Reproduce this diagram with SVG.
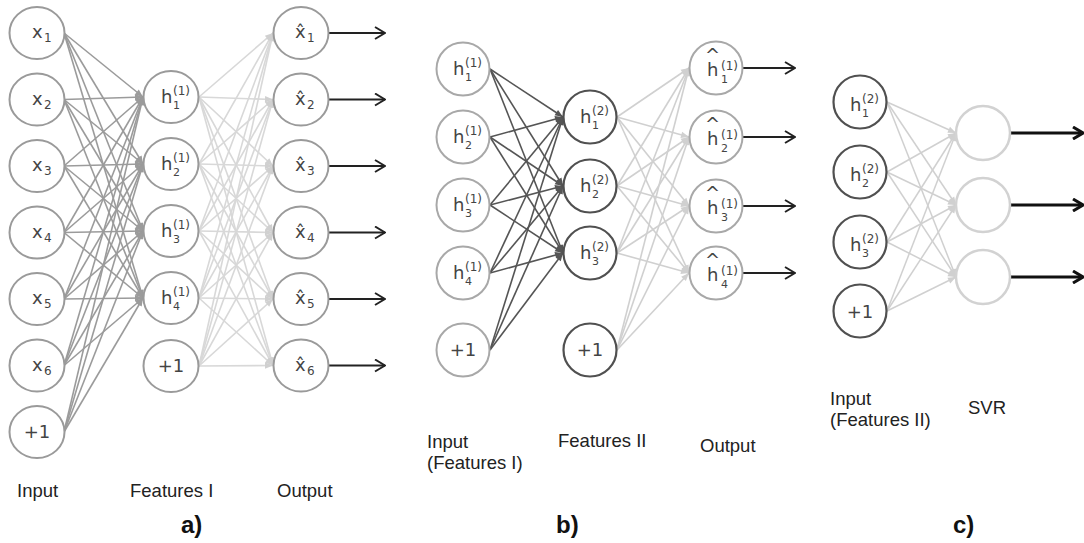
<svg xmlns="http://www.w3.org/2000/svg" width="1084" height="543" viewBox="0 0 1084 543">
<defs>
<style>
.a1 line{stroke:#9b9b9b;stroke-width:1.6;marker-end:url(#mA)}
.a2 line{stroke:#d8d8d8;stroke-width:1.6;marker-end:url(#mB)}
.b1 line{stroke:#555;stroke-width:1.6;marker-end:url(#mC)}
.b2 line{stroke:#d0d0d0;stroke-width:1.6;marker-end:url(#mB)}
.c1 line{stroke:#d0d0d0;stroke-width:1.5;marker-end:url(#mB)}
.out line{stroke:#222;stroke-width:1.8;marker-end:url(#mO)}
.outc line{stroke:#111;stroke-width:3;marker-end:url(#mO2)}
.ng{fill:#fff;stroke:#9a9a9a;stroke-width:2}
.nl{fill:#fff;stroke:#a8a8a8;stroke-width:2}
.nd{fill:#fff;stroke:#505050;stroke-width:2.2}
.nv{fill:#fff;stroke:#d2d2d2;stroke-width:2.5}
.n{font-family:"DejaVu Sans",sans-serif;font-size:18px;fill:#444}
.s{font-size:12px}
.ss{font-size:11px}
.p{font-family:"DejaVu Sans",sans-serif;font-size:18px;fill:#444;text-anchor:middle}
.lb{font-family:"Liberation Sans",Arial,sans-serif;font-size:18.5px;fill:#222}
.pl{font-family:"Liberation Sans",Arial,sans-serif;font-size:24px;font-weight:bold;fill:#111}
</style>
<marker id="mA" viewBox="0 0 10 10" refX="10" refY="5" markerWidth="9" markerHeight="8" markerUnits="userSpaceOnUse" orient="auto"><path d="M0,1 L10,5 L0,9 z" fill="#9b9b9b"/></marker>
<marker id="mB" viewBox="0 0 10 10" refX="10" refY="5" markerWidth="9" markerHeight="8" markerUnits="userSpaceOnUse" orient="auto"><path d="M0,1 L10,5 L0,9 z" fill="#d0d0d0"/></marker>
<marker id="mC" viewBox="0 0 10 10" refX="10" refY="5" markerWidth="9" markerHeight="8" markerUnits="userSpaceOnUse" orient="auto"><path d="M0,1 L10,5 L0,9 z" fill="#555"/></marker>
<marker id="mO" viewBox="0 0 12 14" refX="11" refY="7" markerWidth="12" markerHeight="14" markerUnits="userSpaceOnUse" orient="auto"><path d="M1,1 L11,7 L1,13" fill="none" stroke="#222" stroke-width="2"/></marker>
<marker id="mO2" viewBox="0 0 12 14" refX="11" refY="7" markerWidth="12" markerHeight="14" markerUnits="userSpaceOnUse" orient="auto"><path d="M1,1 L11,7 L1,13" fill="none" stroke="#111" stroke-width="3"/></marker>
</defs>
<rect width="1084" height="543" fill="#fff"/>

<g id="connectors">
<g class="a1">
<line x1="64" y1="33" x2="143" y2="97"/><line x1="64" y1="33" x2="143" y2="164"/><line x1="64" y1="33" x2="143" y2="231"/><line x1="64" y1="33" x2="143" y2="298"/>
<line x1="64" y1="99.5" x2="143" y2="97"/><line x1="64" y1="99.5" x2="143" y2="164"/><line x1="64" y1="99.5" x2="143" y2="231"/><line x1="64" y1="99.5" x2="143" y2="298"/>
<line x1="64" y1="166" x2="143" y2="97"/><line x1="64" y1="166" x2="143" y2="164"/><line x1="64" y1="166" x2="143" y2="231"/><line x1="64" y1="166" x2="143" y2="298"/>
<line x1="64" y1="232.5" x2="143" y2="97"/><line x1="64" y1="232.5" x2="143" y2="164"/><line x1="64" y1="232.5" x2="143" y2="231"/><line x1="64" y1="232.5" x2="143" y2="298"/>
<line x1="64" y1="299" x2="143" y2="97"/><line x1="64" y1="299" x2="143" y2="164"/><line x1="64" y1="299" x2="143" y2="231"/><line x1="64" y1="299" x2="143" y2="298"/>
<line x1="64" y1="365.5" x2="143" y2="97"/><line x1="64" y1="365.5" x2="143" y2="164"/><line x1="64" y1="365.5" x2="143" y2="231"/><line x1="64" y1="365.5" x2="143" y2="298"/>
<line x1="64" y1="432" x2="143" y2="97"/><line x1="64" y1="432" x2="143" y2="164"/><line x1="64" y1="432" x2="143" y2="231"/><line x1="64" y1="432" x2="143" y2="298"/>
</g>
<g class="a2">
<line x1="199" y1="97" x2="273" y2="33"/><line x1="199" y1="97" x2="273" y2="99.5"/><line x1="199" y1="97" x2="273" y2="166"/><line x1="199" y1="97" x2="273" y2="232.5"/><line x1="199" y1="97" x2="273" y2="299"/><line x1="199" y1="97" x2="273" y2="365.5"/>
<line x1="199" y1="164" x2="273" y2="33"/><line x1="199" y1="164" x2="273" y2="99.5"/><line x1="199" y1="164" x2="273" y2="166"/><line x1="199" y1="164" x2="273" y2="232.5"/><line x1="199" y1="164" x2="273" y2="299"/><line x1="199" y1="164" x2="273" y2="365.5"/>
<line x1="199" y1="231" x2="273" y2="33"/><line x1="199" y1="231" x2="273" y2="99.5"/><line x1="199" y1="231" x2="273" y2="166"/><line x1="199" y1="231" x2="273" y2="232.5"/><line x1="199" y1="231" x2="273" y2="299"/><line x1="199" y1="231" x2="273" y2="365.5"/>
<line x1="199" y1="298" x2="273" y2="33"/><line x1="199" y1="298" x2="273" y2="99.5"/><line x1="199" y1="298" x2="273" y2="166"/><line x1="199" y1="298" x2="273" y2="232.5"/><line x1="199" y1="298" x2="273" y2="299"/><line x1="199" y1="298" x2="273" y2="365.5"/>
<line x1="199" y1="366" x2="273" y2="33"/><line x1="199" y1="366" x2="273" y2="99.5"/><line x1="199" y1="366" x2="273" y2="166"/><line x1="199" y1="366" x2="273" y2="232.5"/><line x1="199" y1="366" x2="273" y2="299"/><line x1="199" y1="366" x2="273" y2="365.5"/>
</g>
<g class="out">
<line x1="329" y1="33" x2="385" y2="33"/><line x1="329" y1="99.5" x2="385" y2="99.5"/><line x1="329" y1="166" x2="385" y2="166"/><line x1="329" y1="232.5" x2="385" y2="232.5"/><line x1="329" y1="299" x2="385" y2="299"/><line x1="329" y1="365.5" x2="385" y2="365.5"/>
</g>
<g class="b1">
<line x1="490" y1="69" x2="563" y2="117"/><line x1="490" y1="69" x2="563" y2="186"/><line x1="490" y1="69" x2="563" y2="253"/>
<line x1="490" y1="137" x2="563" y2="117"/><line x1="490" y1="137" x2="563" y2="186"/><line x1="490" y1="137" x2="563" y2="253"/>
<line x1="490" y1="205" x2="563" y2="117"/><line x1="490" y1="205" x2="563" y2="186"/><line x1="490" y1="205" x2="563" y2="253"/>
<line x1="490" y1="273" x2="563" y2="117"/><line x1="490" y1="273" x2="563" y2="186"/><line x1="490" y1="273" x2="563" y2="253"/>
<line x1="490" y1="350" x2="563" y2="117"/><line x1="490" y1="350" x2="563" y2="186"/><line x1="490" y1="350" x2="563" y2="253"/>
</g>
<g class="b2">
<line x1="617" y1="117" x2="689" y2="68"/><line x1="617" y1="117" x2="689" y2="137"/><line x1="617" y1="117" x2="689" y2="206"/><line x1="617" y1="117" x2="689" y2="273"/>
<line x1="617" y1="186" x2="689" y2="68"/><line x1="617" y1="186" x2="689" y2="137"/><line x1="617" y1="186" x2="689" y2="206"/><line x1="617" y1="186" x2="689" y2="273"/>
<line x1="617" y1="253" x2="689" y2="68"/><line x1="617" y1="253" x2="689" y2="137"/><line x1="617" y1="253" x2="689" y2="206"/><line x1="617" y1="253" x2="689" y2="273"/>
<line x1="617" y1="350" x2="689" y2="68"/><line x1="617" y1="350" x2="689" y2="137"/><line x1="617" y1="350" x2="689" y2="206"/><line x1="617" y1="350" x2="689" y2="273"/>
</g>
<g class="out">
<line x1="743" y1="68" x2="795" y2="68"/><line x1="743" y1="137" x2="795" y2="137"/><line x1="743" y1="206" x2="795" y2="206"/><line x1="743" y1="273" x2="795" y2="273"/>
</g>
<g class="c1">
<line x1="887" y1="102" x2="956" y2="133"/><line x1="887" y1="102" x2="956" y2="205"/><line x1="887" y1="102" x2="956" y2="277"/>
<line x1="887" y1="172" x2="956" y2="133"/><line x1="887" y1="172" x2="956" y2="205"/><line x1="887" y1="172" x2="956" y2="277"/>
<line x1="887" y1="242" x2="956" y2="133"/><line x1="887" y1="242" x2="956" y2="205"/><line x1="887" y1="242" x2="956" y2="277"/>
<line x1="887" y1="311" x2="956" y2="133"/><line x1="887" y1="311" x2="956" y2="205"/><line x1="887" y1="311" x2="956" y2="277"/>
</g>
<g class="outc">
<line x1="1011" y1="133" x2="1083" y2="133"/><line x1="1011" y1="205" x2="1083" y2="205"/><line x1="1011" y1="277" x2="1083" y2="277"/>
</g>
</g>

<!-- Panel a: input -->
<g id="a-x1"><ellipse class="ng" cx="37" cy="33" rx="27.5" ry="26"/><text class="n" x="32" y="38">x<tspan class="s" x="44" y="42">1</tspan></text></g>
<g id="a-x2"><ellipse class="ng" cx="37" cy="99.5" rx="27.5" ry="26"/><text class="n" x="32" y="104.5">x<tspan class="s" x="44" y="108.5">2</tspan></text></g>
<g id="a-x3"><ellipse class="ng" cx="37" cy="166" rx="27.5" ry="26"/><text class="n" x="32" y="171">x<tspan class="s" x="44" y="175">3</tspan></text></g>
<g id="a-x4"><ellipse class="ng" cx="37" cy="232.5" rx="27.5" ry="26"/><text class="n" x="32" y="237.5">x<tspan class="s" x="44" y="241.5">4</tspan></text></g>
<g id="a-x5"><ellipse class="ng" cx="37" cy="299" rx="27.5" ry="26"/><text class="n" x="32" y="304">x<tspan class="s" x="44" y="308">5</tspan></text></g>
<g id="a-x6"><ellipse class="ng" cx="37" cy="365.5" rx="27.5" ry="26"/><text class="n" x="32" y="370.5">x<tspan class="s" x="44" y="374.5">6</tspan></text></g>
<g id="a-b1"><ellipse class="ng" cx="37" cy="432" rx="27.5" ry="26"/><text class="p" x="37" y="438">+1</text></g>

<!-- Panel a: features I -->
<g id="a-h1"><ellipse class="ng" cx="171" cy="97" rx="27.5" ry="26"/><text class="n" x="161" y="103">h<tspan class="s" x="173" y="95">(1)</tspan><tspan class="ss" x="173" y="109">1</tspan></text></g>
<g id="a-h2"><ellipse class="ng" cx="171" cy="164" rx="27.5" ry="26"/><text class="n" x="161" y="170">h<tspan class="s" x="173" y="162">(1)</tspan><tspan class="ss" x="173" y="176">2</tspan></text></g>
<g id="a-h3"><ellipse class="ng" cx="171" cy="231" rx="27.5" ry="26"/><text class="n" x="161" y="237">h<tspan class="s" x="173" y="229">(1)</tspan><tspan class="ss" x="173" y="243">3</tspan></text></g>
<g id="a-h4"><ellipse class="ng" cx="171" cy="298" rx="27.5" ry="26"/><text class="n" x="161" y="304">h<tspan class="s" x="173" y="296">(1)</tspan><tspan class="ss" x="173" y="310">4</tspan></text></g>
<g id="a-hb"><ellipse class="ng" cx="171" cy="366" rx="27.5" ry="26"/><text class="p" x="171" y="372">+1</text></g>

<!-- Panel a: output -->
<g id="a-o1"><ellipse class="ng" cx="301" cy="33" rx="27.5" ry="26"/><text class="n" x="295" y="38">x̂<tspan class="s" x="307" y="42">1</tspan></text></g>
<g id="a-o2"><ellipse class="ng" cx="301" cy="99.5" rx="27.5" ry="26"/><text class="n" x="295" y="104.5">x̂<tspan class="s" x="307" y="108.5">2</tspan></text></g>
<g id="a-o3"><ellipse class="ng" cx="301" cy="166" rx="27.5" ry="26"/><text class="n" x="295" y="171">x̂<tspan class="s" x="307" y="175">3</tspan></text></g>
<g id="a-o4"><ellipse class="ng" cx="301" cy="232.5" rx="27.5" ry="26"/><text class="n" x="295" y="237.5">x̂<tspan class="s" x="307" y="241.5">4</tspan></text></g>
<g id="a-o5"><ellipse class="ng" cx="301" cy="299" rx="27.5" ry="26"/><text class="n" x="295" y="304">x̂<tspan class="s" x="307" y="308">5</tspan></text></g>
<g id="a-o6"><ellipse class="ng" cx="301" cy="365.5" rx="27.5" ry="26"/><text class="n" x="295" y="370.5">x̂<tspan class="s" x="307" y="374.5">6</tspan></text></g>

<!-- Panel b: input (features I) -->
<g id="b-i1"><circle class="nl" cx="463" cy="69" r="26.5"/><text class="n" x="453" y="75">h<tspan class="s" x="465" y="67">(1)</tspan><tspan class="ss" x="465" y="81">1</tspan></text></g>
<g id="b-i2"><circle class="nl" cx="463" cy="137" r="26.5"/><text class="n" x="453" y="143">h<tspan class="s" x="465" y="135">(1)</tspan><tspan class="ss" x="465" y="149">2</tspan></text></g>
<g id="b-i3"><circle class="nl" cx="463" cy="205" r="26.5"/><text class="n" x="453" y="211">h<tspan class="s" x="465" y="203">(1)</tspan><tspan class="ss" x="465" y="217">3</tspan></text></g>
<g id="b-i4"><circle class="nl" cx="463" cy="273" r="26.5"/><text class="n" x="453" y="279">h<tspan class="s" x="465" y="271">(1)</tspan><tspan class="ss" x="465" y="285">4</tspan></text></g>
<g id="b-ib"><circle class="nl" cx="463" cy="350" r="26.5"/><text class="p" x="463" y="356">+1</text></g>

<!-- Panel b: features II -->
<g id="b-f1"><circle class="nd" cx="590" cy="117" r="26.5"/><text class="n" x="580" y="123">h<tspan class="s" x="592" y="115">(2)</tspan><tspan class="ss" x="592" y="129">1</tspan></text></g>
<g id="b-f2"><circle class="nd" cx="590" cy="186" r="26.5"/><text class="n" x="580" y="192">h<tspan class="s" x="592" y="184">(2)</tspan><tspan class="ss" x="592" y="198">2</tspan></text></g>
<g id="b-f3"><circle class="nd" cx="590" cy="253" r="26.5"/><text class="n" x="580" y="259">h<tspan class="s" x="592" y="251">(2)</tspan><tspan class="ss" x="592" y="265">3</tspan></text></g>
<g id="b-fb"><circle class="nd" cx="590" cy="350" r="26.5"/><text class="p" x="590" y="356">+1</text></g>

<!-- Panel b: output -->
<g id="b-o1"><circle class="nl" cx="716" cy="68" r="26.5"/><text class="n" x="705 707" y="61 76">^h<tspan class="s" x="721" y="70">(1)</tspan><tspan class="ss" x="721" y="83">1</tspan></text></g>
<g id="b-o2"><circle class="nl" cx="716" cy="137" r="26.5"/><text class="n" x="705 707" y="130 145">^h<tspan class="s" x="721" y="139">(1)</tspan><tspan class="ss" x="721" y="152">2</tspan></text></g>
<g id="b-o3"><circle class="nl" cx="716" cy="206" r="26.5"/><text class="n" x="705 707" y="199 214">^h<tspan class="s" x="721" y="208">(1)</tspan><tspan class="ss" x="721" y="221">3</tspan></text></g>
<g id="b-o4"><circle class="nl" cx="716" cy="273" r="26.5"/><text class="n" x="705 707" y="266 281">^h<tspan class="s" x="721" y="275">(1)</tspan><tspan class="ss" x="721" y="288">4</tspan></text></g>

<!-- Panel c: input (features II) -->
<g id="c-i1"><circle class="nd" cx="860" cy="102" r="26.5"/><text class="n" x="850" y="111">h<tspan class="s" x="862" y="103">(2)</tspan><tspan class="ss" x="862" y="117">1</tspan></text></g>
<g id="c-i2"><circle class="nd" cx="860" cy="172" r="26.5"/><text class="n" x="850" y="181">h<tspan class="s" x="862" y="173">(2)</tspan><tspan class="ss" x="862" y="187">2</tspan></text></g>
<g id="c-i3"><circle class="nd" cx="860" cy="242" r="26.5"/><text class="n" x="850" y="251">h<tspan class="s" x="862" y="243">(2)</tspan><tspan class="ss" x="862" y="257">3</tspan></text></g>
<g id="c-ib"><circle class="nd" cx="860" cy="311" r="26.5"/><text class="p" x="860" y="318">+1</text></g>

<!-- Panel c: SVR -->
<g id="c-s1"><circle class="nv" cx="983" cy="133" r="27"/></g>
<g id="c-s2"><circle class="nv" cx="983" cy="205" r="27"/></g>
<g id="c-s3"><circle class="nv" cx="983" cy="277" r="27"/></g>

<!-- Labels -->
<g id="labels">
<text class="lb" x="17" y="497">Input</text>
<text class="lb" x="130" y="497">Features I</text>
<text class="lb" x="277" y="497">Output</text>
<text class="pl" x="181" y="533">a)</text>
<text class="lb" x="427" y="448">Input</text>
<text class="lb" x="427" y="469">(Features I)</text>
<text class="lb" x="558" y="447">Features II</text>
<text class="lb" x="700" y="452">Output</text>
<text class="pl" x="556" y="533">b)</text>
<text class="lb" x="830" y="405">Input</text>
<text class="lb" x="830" y="426">(Features II)</text>
<text class="lb" x="968" y="414">SVR</text>
<text class="pl" x="953" y="533">c)</text>
</g>
</svg>
